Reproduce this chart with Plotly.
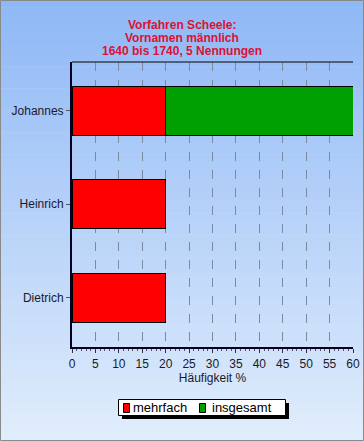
import plotly.graph_objects as go

categories = ["Dietrich", "Heinrich", "Johannes"]
mehrfach = [20, 20, 20]
insgesamt = [0, 0, 40]
series_names = ["mehrfach", "insgesamt"]
series_colors = ["#FF0000", "#00A000"]
x_ticks = [0, 5, 10, 15, 20, 25, 30, 35, 40, 45, 50, 55, 60]
title_lines = ["Vorfahren Scheele:", "Vornamen männlich", "1640 bis 1740, 5 Nennungen"]

W, H = 364, 441
L, R, T, B = 72, 11, 62, 94
pw, ph = W - L - R, H - T - B

def px2paper_x(px):
    return (px - L) / pw

def px2paper_y(py):
    return (H - B - py) / ph

fig = go.Figure()
for name, vals, col in zip(series_names, [mehrfach, insgesamt], series_colors):
    fig.add_trace(go.Bar(y=categories, x=vals, orientation="h", name=name,
                         marker=dict(color=col, line=dict(color="#000000", width=1)),
                         width=0.52, showlegend=False))

shapes = []
annotations = []
# gradient background
n = 60
top = (143, 184, 246)
bot = (224, 237, 252)
for i in range(n):
    y0 = i * H / n
    y1 = (i + 1) * H / n + 0.5
    t = i / (n - 1)
    c = tuple(int(round(top[k] + (bot[k] - top[k]) * t)) for k in range(3))
    shapes.append(dict(type="rect", xref="paper", yref="paper",
                       x0=px2paper_x(0), x1=px2paper_x(W),
                       y0=px2paper_y(y1), y1=px2paper_y(y0),
                       fillcolor="rgb(%d,%d,%d)" % c, line=dict(width=0), layer="below"))
# outer border
shapes.append(dict(type="rect", xref="paper", yref="paper",
                   x0=px2paper_x(0.5), x1=px2paper_x(W - 0.5),
                   y0=px2paper_y(H - 0.5), y1=px2paper_y(0.5),
                   line=dict(color="#8a8a8a", width=1), layer="below"))
# title lines
for i, line in enumerate(title_lines):
    annotations.append(dict(text="<b>%s</b>" % line, xref="paper", yref="paper",
                            x=px2paper_x(182), y=px2paper_y(25 + 13 * i),
                            xanchor="center", yanchor="middle", showarrow=False,
                            font=dict(size=12, color="#DD1133")))
# legend: shadow, box, keys, labels
shapes.append(dict(type="rect", xref="paper", yref="paper",
                   x0=px2paper_x(122), x1=px2paper_x(289),
                   y0=px2paper_y(419), y1=px2paper_y(403),
                   fillcolor="#000000", line=dict(width=0), layer="below"))
shapes.append(dict(type="rect", xref="paper", yref="paper",
                   x0=px2paper_x(118.5), x1=px2paper_x(285.5),
                   y0=px2paper_y(415.5), y1=px2paper_y(399.5),
                   fillcolor="#FFFFFF", line=dict(color="#000000", width=1), layer="below"))
key_x = [123, 199]
text_x = [131, 210]
for name, col, kx, tx in zip(series_names, series_colors, key_x, text_x):
    shapes.append(dict(type="rect", xref="paper", yref="paper",
                       x0=px2paper_x(kx + 0.5), x1=px2paper_x(kx + 6.5),
                       y0=px2paper_y(412.5), y1=px2paper_y(403.5),
                       fillcolor=col, line=dict(color="#000000", width=1), layer="below"))
    annotations.append(dict(text=name, xref="paper", yref="paper",
                            x=px2paper_x(tx), y=px2paper_y(407.5),
                            xanchor="left", yanchor="middle", showarrow=False,
                            font=dict(size=13, color="#000000")))
# top border of plot area
shapes.append(dict(type="line", xref="paper", yref="paper", x0=0, x1=1, y0=1, y1=1,
                   line=dict(color="#000000", width=1), layer="above"))

fig.update_layout(
    width=W, height=H,
    margin=dict(l=L, r=R, t=T, b=B, autoexpand=False),
    barmode="stack",
    paper_bgcolor="rgba(0,0,0,0)",
    plot_bgcolor="rgba(0,0,0,0)",
    font=dict(family="Liberation Sans, Arial, sans-serif", size=12, color="#1a1a2a"),
    showlegend=False,
    shapes=shapes,
    annotations=annotations,
)
fig.update_xaxes(range=[0, 60], tickvals=x_ticks, ticktext=[str(v) for v in x_ticks],
                 showgrid=True, gridcolor="#7a8aa0", griddash="dash", gridwidth=1,
                 showline=True, linecolor="#000022", linewidth=2,
                 ticks="outside", ticklen=4, tickcolor="#333333",
                 minor=dict(dtick=1, ticks="outside", ticklen=2, tickcolor="#555555", showgrid=False),
                 title=dict(text="Häufigkeit %", standoff=3, font=dict(size=12)),
                 tickfont=dict(size=12), ticklabelstandoff=1,
                 zeroline=False, fixedrange=True, automargin=False)
fig.update_yaxes(showgrid=False, showline=True, linecolor="#000022", linewidth=2,
                 ticks="outside", ticklen=4, tickcolor="#555555",
                 range=[-0.525, 2.52], zeroline=False, automargin=False, fixedrange=True)

fig.write_html("out.html", config={"displayModeBar": False},
               post_script="document.body.style.margin='0';document.body.style.overflow='hidden';")
